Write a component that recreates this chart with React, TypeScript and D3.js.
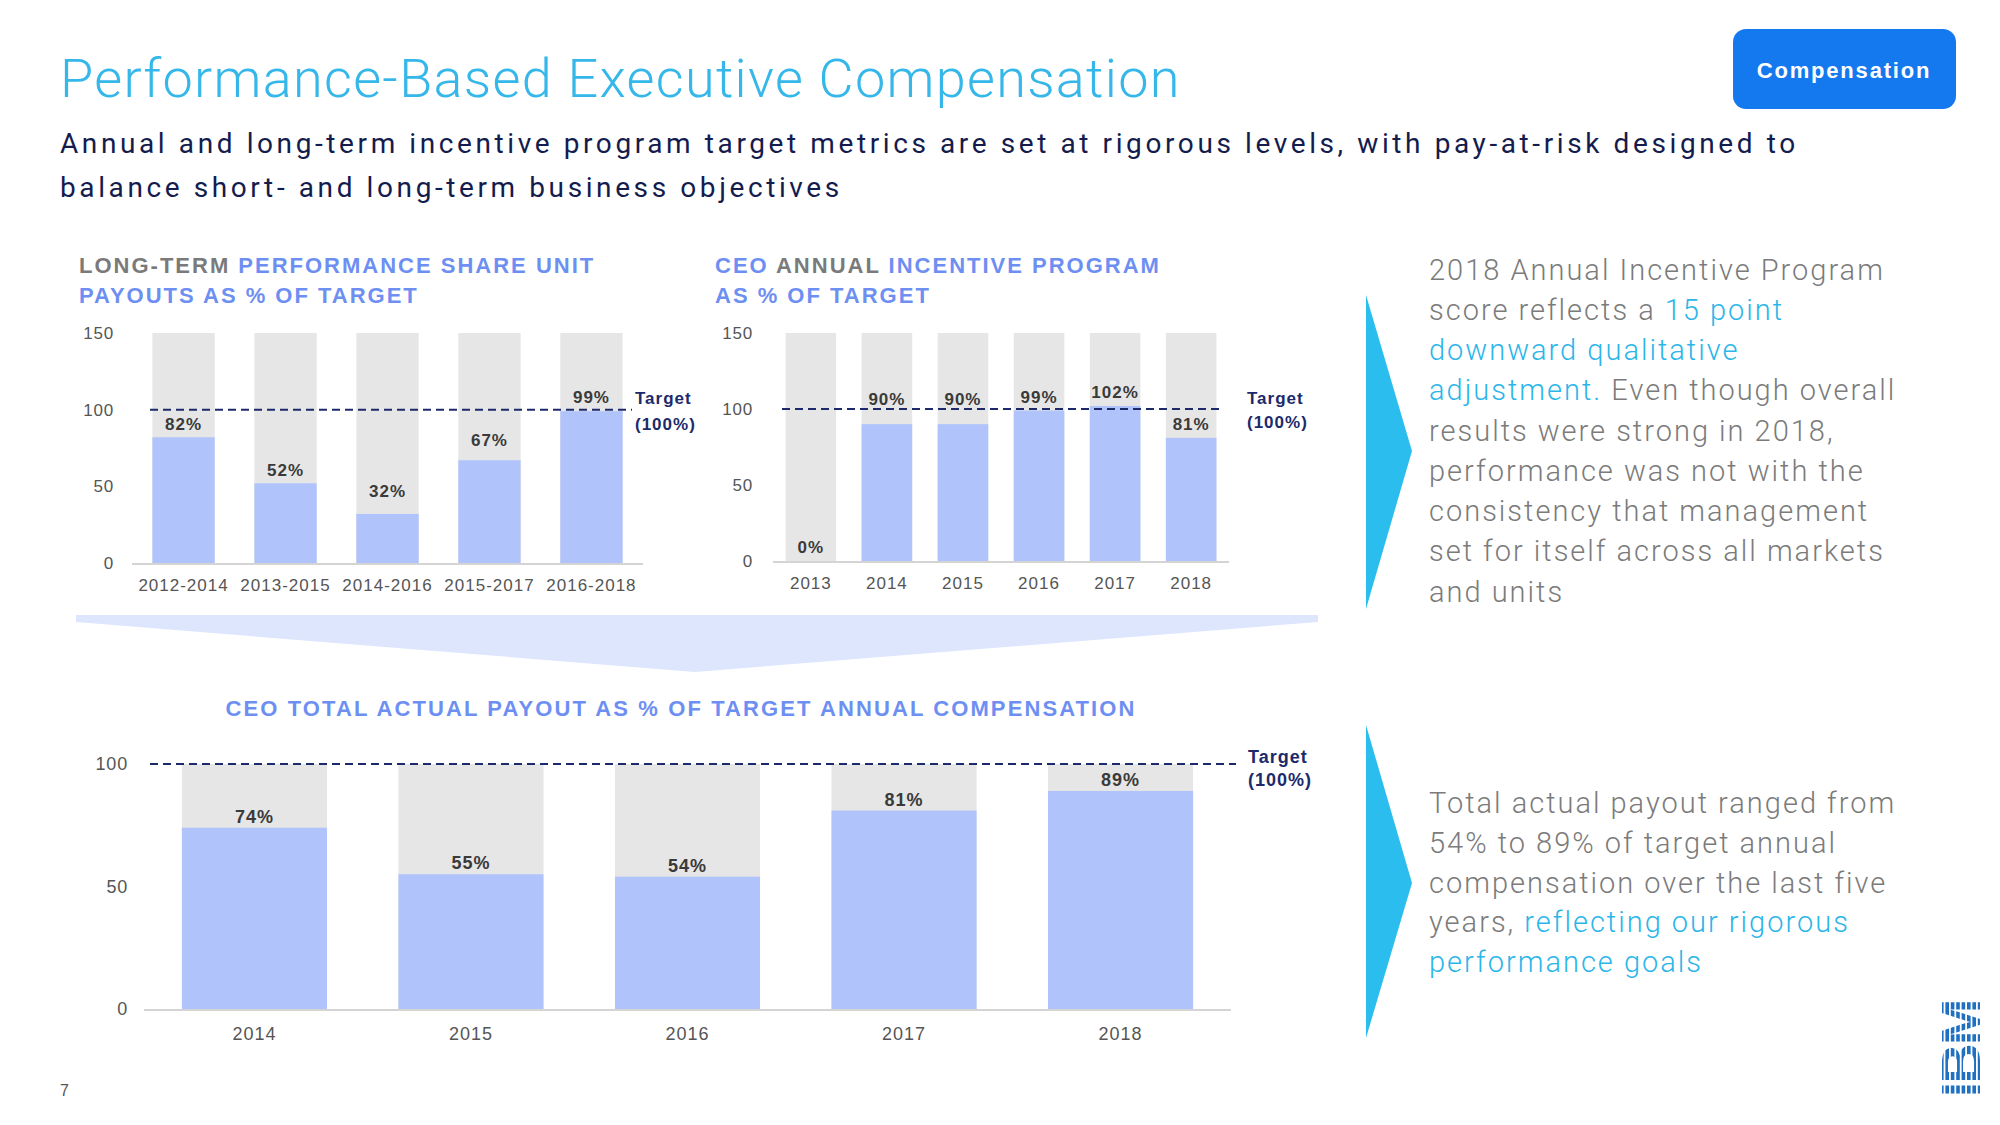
import React from 'react';
import * as d3 from 'd3';

// ---------- DATA ----------
const ltpsuPeriods = ['2012-2014', '2013-2015', '2014-2016', '2015-2017', '2016-2018'];
const ltpsuPayouts = [82, 52, 32, 67, 99];
const ltpsuTicks = [0, 50, 100, 150];

const aipYears = ['2013', '2014', '2015', '2016', '2017', '2018'];
const aipScores = [0, 90, 90, 99, 102, 81];
const aipTicks = [0, 50, 100, 150];

const totalYears = ['2014', '2015', '2016', '2017', '2018'];
const totalPayouts = [74, 55, 54, 81, 89];
const totalTicks = [0, 50, 100];

const targetPct = 100;

// ---------- STYLE ----------
const HEAD = "'Liberation Sans',Arial,sans-serif";
const LIGHT = "Roboto,'Liberation Sans',Arial,sans-serif";

const C = {
  title: '#35b7e9',
  navy: '#141c4e',
  headGray: '#7a7a7a',
  headBlue: '#6e8ff2',
  bar: '#b0c4fb',
  bg: '#e6e6e6',
  axis: '#d4d4d4',
  target: '#1c2a6b',
  value: '#3a3a3a',
  tick: '#555555',
  body: '#7b7b7b',
  bodyBlue: '#2bb6ea',
  wedge: '#2bbdee',
  band: '#dde6fd',
  badge: '#1479ee',
};

type PanelProps = {
  cats: string[];
  vals: number[];
  ticks: number[];
  yMax: number;
  x0: number; x1: number;
  yBottom: number; yTop: number;
  pInner: number; pOuter: number;
  tickRight: number;
  tickFs: number;
  xLabelY: number;
  xFs: number;
  valFs: number;
  valGap: number;
  labelLift?: number[];
  dash0: number; dash1: number;
  targetX: number; targetDy1: number; targetDy2: number;
  targetFs: number;
};

function Panel(p: PanelProps) {
  const x = d3.scaleBand<string>().domain(p.cats).range([p.x0, p.x1]).paddingInner(p.pInner).paddingOuter(p.pOuter);
  const y = d3.scaleLinear().domain([0, p.yMax]).range([p.yBottom, p.yTop]);
  const ty = y(targetPct);
  return (
    <g>
      {p.cats.map((c) => (
        <rect key={'bg' + c} x={x(c)} y={y(p.yMax)} width={x.bandwidth()} height={y(0) - y(p.yMax)} fill={C.bg} />
      ))}
      {p.cats.map((c, i) => (
        <rect key={'v' + c} x={x(c)} y={y(p.vals[i])} width={x.bandwidth()} height={y(0) - y(p.vals[i])} fill={C.bar} />
      ))}
      <line x1={p.x0} x2={p.x1} y1={y(0) + 1} y2={y(0) + 1} stroke={C.axis} strokeWidth={2} />
      {p.ticks.map((t) => (
        <text key={'t' + t} x={p.tickRight} y={y(t) + p.tickFs * 0.36} textAnchor="end" fontFamily={HEAD}
          fontSize={p.tickFs} fill={C.tick} letterSpacing={0.8}>{t}</text>
      ))}
      {p.cats.map((c) => (
        <text key={'x' + c} x={(x(c) as number) + x.bandwidth() / 2} y={p.xLabelY} textAnchor="middle" fontFamily={HEAD}
          fontSize={p.xFs} fill={C.tick} letterSpacing={1}>{c}</text>
      ))}
      <line x1={p.dash0} x2={p.dash1} y1={ty} y2={ty} stroke={C.target} strokeWidth={2} strokeDasharray="8,5" />
      {p.cats.map((c, i) => {
        let base = y(p.vals[i]) - p.valGap - (p.labelLift ? p.labelLift[i] : 0);
        const capH = p.valFs * 0.72;
        if (base > ty - 1 && base - capH < ty + 1) base = ty - 4;
        return (
          <text key={'l' + c} x={(x(c) as number) + x.bandwidth() / 2} y={base} textAnchor="middle" fontFamily={HEAD}
            fontWeight="bold" fontSize={p.valFs} fill={C.value} letterSpacing={1}>{p.vals[i]}%</text>
        );
      })}
      <text x={p.targetX} y={ty + p.targetDy1} fontFamily={HEAD} fontWeight="bold" fontSize={p.targetFs}
        fill={C.target} letterSpacing={1}>Target</text>
      <text x={p.targetX} y={ty + p.targetDy2} fontFamily={HEAD} fontWeight="bold" fontSize={p.targetFs}
        fill={C.target} letterSpacing={1}>(100%)</text>
    </g>
  );
}

function IbmLogo() {
  const cx = 1960, cy = 1049;
  const stripes = d3.range(8);
  return (
    <g>
      <text x={cx} y={cy} transform={`rotate(-90 ${cx} ${cy})`} textAnchor="middle" dominantBaseline="central"
        fontFamily={HEAD} fontWeight="bold" fontSize={56} fill="#1f70c1" letterSpacing={-2}>IBM</text>
      {stripes.map((s) => (
        <rect key={s} x={1940 + s * 5.4 + 3.6} y={1000} width={1.8} height={98} fill="#ffffff" />
      ))}
    </g>
  );
}

export default function App() {
  const headLs = 2;
  return (
    <svg width={2000} height={1125} viewBox="0 0 2000 1125"
      style={{ position: 'absolute', left: 0, top: 0, display: 'block', background: '#ffffff' }}>
      <rect x={0} y={0} width={2000} height={1125} fill="#ffffff" />

      {/* Title */}
      <text x={60} y={97} fontFamily={LIGHT} fontWeight={300} fontSize={54} fill={C.title} letterSpacing={1.3}>
        Performance-Based Executive Compensation
      </text>
      <text fontFamily={LIGHT} fontWeight={400} fontSize={28} fill={C.navy} letterSpacing={3.6}>
        <tspan x={60} y={153}>Annual and long-term incentive program target metrics are set at rigorous levels, with pay-at-risk designed to</tspan>
        <tspan x={60} y={197}>balance short- and long-term business objectives</tspan>
      </text>

      {/* Badge */}
      <rect x={1733} y={29} width={223} height={80} rx={13} fill={C.badge} />
      <text x={1844} y={78} textAnchor="middle" fontFamily={HEAD} fontWeight="bold" fontSize={22} fill="#ffffff"
        letterSpacing={1.8}>Compensation</text>

      {/* Panel headings */}
      <text fontFamily={HEAD} fontWeight="bold" fontSize={22} letterSpacing={headLs}>
        <tspan x={79} y={273} fill={C.headGray}>LONG-TERM </tspan>
        <tspan fill={C.headBlue}>PERFORMANCE SHARE UNIT</tspan>
        <tspan x={79} y={303} fill={C.headBlue}>PAYOUTS AS % OF TARGET</tspan>
      </text>
      <text fontFamily={HEAD} fontWeight="bold" fontSize={22} letterSpacing={headLs}>
        <tspan x={715} y={273} fill={C.headBlue}>CEO </tspan>
        <tspan fill={C.headGray}>ANNUAL </tspan>
        <tspan fill={C.headBlue}>INCENTIVE PROGRAM</tspan>
        <tspan x={715} y={303} fill={C.headBlue}>AS % OF TARGET</tspan>
      </text>

      <Panel cats={ltpsuPeriods} vals={ltpsuPayouts} ticks={ltpsuTicks} yMax={150}
        x0={132} x1={643} yBottom={563} yTop={333} pInner={0.389} pOuter={0.2}
        tickRight={114} tickFs={17} xLabelY={591} xFs={17} valFs={17} valGap={7}
        labelLift={[0, 0, 10, 7, 1]}
        dash0={150} dash1={632} targetX={635} targetDy1={-6} targetDy2={20} targetFs={17} />

      <Panel cats={aipYears} vals={aipScores} ticks={aipTicks} yMax={150}
        x0={773} x1={1229} yBottom={561} yTop={333} pInner={0.335} pOuter={0.165}
        tickRight={753} tickFs={17} xLabelY={589} xFs={17} valFs={17} valGap={8}
        dash0={782} dash1={1222} targetX={1247} targetDy1={-5} targetDy2={19} targetFs={17} />

      {/* Chevron band */}
      <polygon points="76,615 1318,615 1318,622 695,672 76,622" fill={C.band} />

      <text x={681} y={716} textAnchor="middle" fontFamily={HEAD} fontWeight="bold" fontSize={22} fill={C.headBlue}
        letterSpacing={2.1}>CEO TOTAL ACTUAL PAYOUT AS % OF TARGET ANNUAL COMPENSATION</text>

      <Panel cats={totalYears} vals={totalPayouts} ticks={totalTicks} yMax={100}
        x0={144} x1={1231} yBottom={1009} yTop={764} pInner={0.33} pOuter={0.175}
        tickRight={128} tickFs={18} xLabelY={1040} xFs={18} valFs={18} valGap={5}
        dash0={150} dash1={1236} targetX={1248} targetDy1={-1} targetDy2={22} targetFs={18} />

      {/* Right wedges */}
      <polygon points="1366,295 1412,451 1366,609" fill={C.wedge} />
      <polygon points="1366,725 1412,883 1366,1038" fill={C.wedge} />

      <text fontFamily={LIGHT} fontWeight={300} fontSize={29} fill={C.body} letterSpacing={2}>
        <tspan x={1429} y={280}>2018 Annual Incentive Program</tspan>
        <tspan x={1429} y={320}>score reflects a </tspan><tspan fill={C.bodyBlue}>15 point</tspan>
        <tspan x={1429} y={360} fill={C.bodyBlue}>downward qualitative</tspan>
        <tspan x={1429} y={400} fill={C.bodyBlue}>adjustment.</tspan><tspan> Even though overall</tspan>
        <tspan x={1429} y={441}>results were strong in 2018,</tspan>
        <tspan x={1429} y={481}>performance was not with the</tspan>
        <tspan x={1429} y={521}>consistency that management</tspan>
        <tspan x={1429} y={561}>set for itself across all markets</tspan>
        <tspan x={1429} y={602}>and units</tspan>
      </text>

      <text fontFamily={LIGHT} fontWeight={300} fontSize={29} fill={C.body} letterSpacing={2}>
        <tspan x={1429} y={813}>Total actual payout ranged from</tspan>
        <tspan x={1429} y={853}>54% to 89% of target annual</tspan>
        <tspan x={1429} y={893}>compensation over the last five</tspan>
        <tspan x={1429} y={932}>years, </tspan><tspan fill={C.bodyBlue}>reflecting our rigorous</tspan>
        <tspan x={1429} y={972} fill={C.bodyBlue}>performance goals</tspan>
      </text>

      <text x={60} y={1096} fontFamily={HEAD} fontSize={16} fill="#555">7</text>
      <IbmLogo />
    </svg>
  );
}
